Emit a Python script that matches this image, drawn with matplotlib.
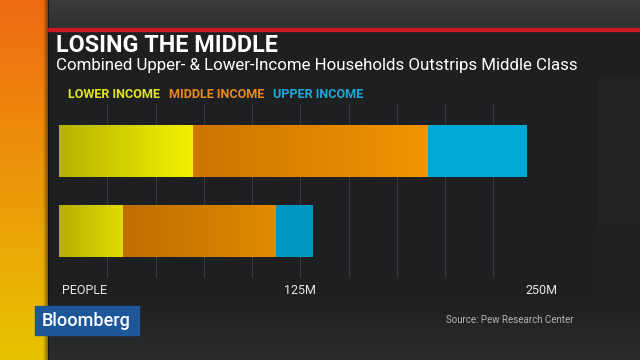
import numpy as np
import matplotlib
matplotlib.use("Agg")
import matplotlib.pyplot as plt
from matplotlib.colors import LinearSegmentedColormap
from matplotlib.patches import Rectangle
import matplotlib.transforms as mtransforms

# data (millions of people), top bar first
groups = ["2015", "1971"]
lower = [69.5, 32.9]
middle = [121.4, 79.6]
upper = [50.9, 18.9]
tick_vals = [0, 125, 250]
tick_labels = ["PEOPLE", "125M", "250M"]
grid_vals = list(range(25, 251, 25))

# gradient colours per segment (left -> right), per bar
lower_cols = [("#b5b300", "#f2f200"), ("#b5b000", "#e0dc00")]
middle_cols = [("#cc7500", "#f29400"), ("#bd6e00", "#e08b00")]
upper_cols = [("#00a8d4", "#00a8d4"), ("#0098c2", "#0098c2")]

FONT = "Roboto"
W, H = 640, 360
fig = plt.figure(figsize=(6.4, 3.6), dpi=100)
fig.patch.set_facecolor("#1f2022")

# background layer in pixel coordinates
bg = fig.add_axes([0, 0, 1, 1])
bg.set_xlim(0, W)
bg.set_ylim(H, 0)
bg.axis("off")


def vgrad(ax, x0, x1, y0, y1, c0, c1, z=0):
    cm = LinearSegmentedColormap.from_list("g", [c0, c1])
    ax.imshow(np.linspace(0, 1, 256).reshape(-1, 1), cmap=cm, aspect="auto",
              extent=(x0, x1, y1, y0), zorder=z, interpolation="bilinear")


def hgrad(ax, x0, x1, y0, y1, c0, c1, z=0):
    cm = LinearSegmentedColormap.from_list("g", [c0, c1])
    ax.imshow(np.linspace(0, 1, 256).reshape(1, -1), cmap=cm, aspect="auto",
              extent=(x0, x1, y1, y0), zorder=z, interpolation="bilinear")


# top strip, chart panel, bottom strip
vgrad(bg, 0, W, 0, 30, "#3c3c3e", "#2e2f31", z=0)
bg.add_patch(Rectangle((48, 30), W - 48, 270, color="#1e1f21", zorder=1))
vgrad(bg, 598, W, 78, 300, "#232426", "#202123", z=1.5)
vgrad(bg, 0, W, 300, H, "#1f2022", "#2b2c2e", z=1)
# left stripe
vgrad(bg, 0, 48, 0, H, "#f06a12", "#e8c400", z=2)
hgrad(bg, 43, 49, 0, H, (0, 0, 0, 0), (0, 0, 0, 0.55), z=3)
# red rule
bg.add_patch(Rectangle((48, 28), W - 48, 3, color="#c8181c", zorder=4))

fig.text(56 / W, 1 - 45 / H, "LOSING THE MIDDLE", color="white",
         fontsize=16.8, fontweight="bold", family=FONT,
         va="center", ha="left")
fig.text(56 / W, 1 - 65.5 / H,
         "Combined Upper- & Lower-Income Households Outstrips Middle Class",
         color="white", fontsize=12.2, family=FONT,
         va="center", ha="left")

# legend
fig.text(68 / W, 1 - 95 / H, "LOWER INCOME", color="#e3e31e", fontsize=9.1,
         fontweight="bold", family=FONT, va="center")
fig.text(169 / W, 1 - 95 / H, "MIDDLE INCOME", color="#ea8a1c", fontsize=9.1,
         fontweight="bold", family=FONT, va="center")
fig.text(273 / W, 1 - 95 / H, "UPPER INCOME", color="#1ca8d8", fontsize=9.1,
         fontweight="bold", family=FONT, va="center")

# chart axes: x 59..542 px for 0..250, y 104..278 px
ax = fig.add_axes([59 / W, 1 - 278 / H, (541.7 - 59) / W, 174 / H])
ax.set_facecolor("none")
ypos = np.arange(len(groups))
bh = 0.65

for gx in grid_vals:
    ax.axvline(gx, color="#3a3b3e", lw=0.8, zorder=0)


def grad_bar(y, left, width, cols):
    bar = ax.barh(y, width, left=left, height=bh, color=cols[1], lw=0, zorder=2)[0]
    cm = LinearSegmentedColormap.from_list("b", list(cols))
    im = ax.imshow(np.linspace(0, 1, 256).reshape(1, -1), cmap=cm, aspect="auto",
                   extent=(left, left + width, y + bh / 2, y - bh / 2),
                   zorder=2.1, interpolation="bilinear")
    im.set_clip_path(bar)


for i in ypos:
    grad_bar(i, 0, lower[i], lower_cols[i])
    grad_bar(i, lower[i], middle[i], middle_cols[i])
    grad_bar(i, lower[i] + middle[i], upper[i], upper_cols[i])

ax.set_xlim(0, 250)
ax.set_ylim(1.5875, -0.5875)
ax.set_aspect("auto")
for s in ax.spines.values():
    s.set_visible(False)
ax.set_yticks([])
ax.set_xticks(tick_vals)
ax.set_xticklabels(tick_labels, color="#e8e8e8", fontsize=9, family=FONT)
ax.tick_params(axis="x", length=0, pad=4)
first = ax.get_xticklabels()[0]
first.set_ha("left")
first.set_transform(first.get_transform() +
                    mtransforms.ScaledTranslation(3 / 100, 0, fig.dpi_scale_trans))

# Bloomberg box and source
bg.add_patch(Rectangle((35, 306), 104, 29, color="#1d5699", zorder=5))
bg.text(86, 321, "Bloomberg", color="white", fontsize=13, family=FONT,
        fontweight="medium", ha="center", va="center", zorder=6)
bg.text(446, 320, "Source: Pew Research Center", color="#b4b4b4", fontsize=7,
        family=FONT, ha="left", va="center", zorder=6)

fig.savefig("out.png", dpi=100, facecolor=fig.get_facecolor())
